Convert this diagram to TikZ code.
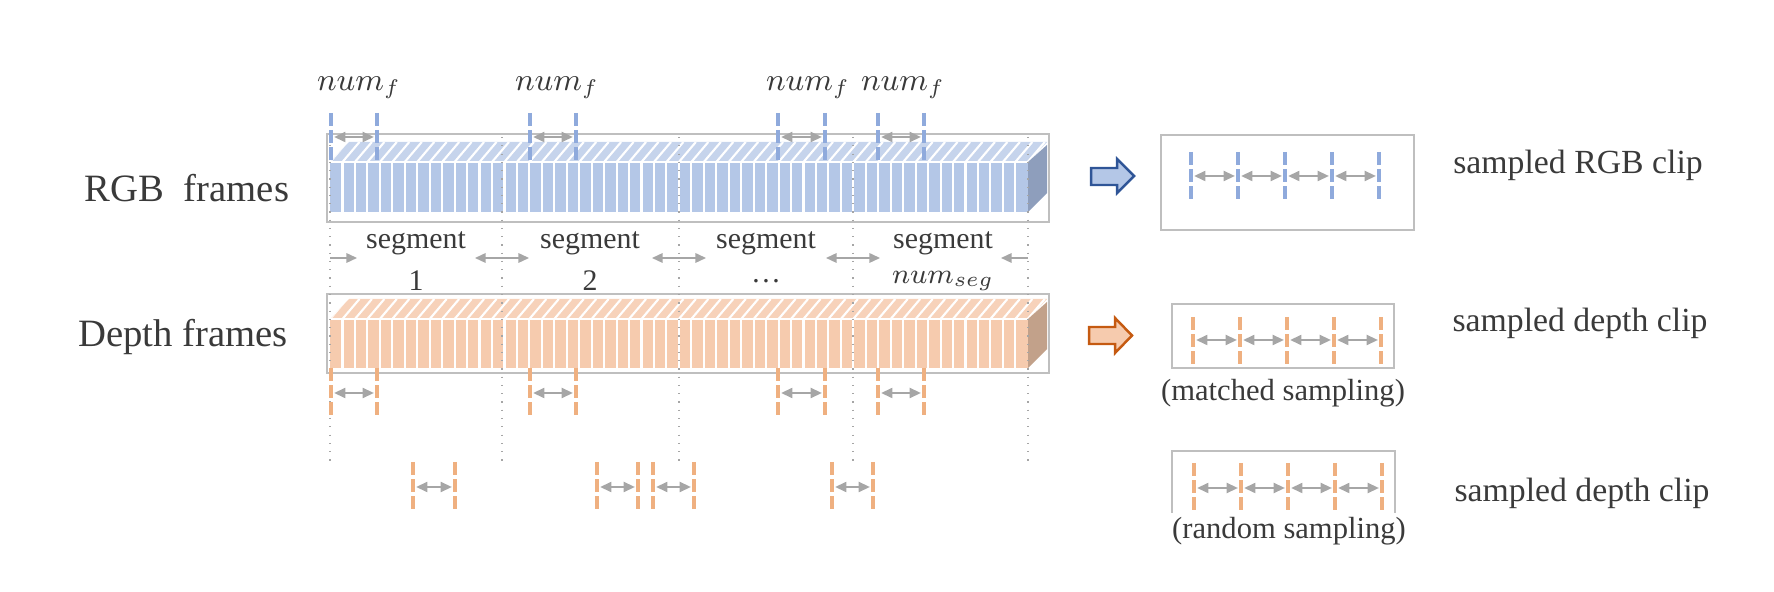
\documentclass[tikz,border=0pt]{standalone}
\usepackage{fontspec}
\setmainfont{Liberation Serif}
\usetikzlibrary{arrows.meta}
\usetikzlibrary{positioning}
\usetikzlibrary{calc}

\definecolor{rgbfill}{HTML}{B4C7E7}
\definecolor{rgbtop}{HTML}{C6D4EC}
\definecolor{rgbside}{HTML}{8E9EBC}
\definecolor{rgbmark}{HTML}{8FAADC}
\definecolor{rgbline}{HTML}{2F5597}
\definecolor{depfill}{HTML}{F6CBAE}
\definecolor{deptop}{HTML}{F7D2BA}
\definecolor{depside}{HTML}{C2A18A}
\definecolor{depmark}{HTML}{EFB080}
\definecolor{depline}{HTML}{C55A11}
\definecolor{txt}{HTML}{3A3A3A}
\definecolor{arr}{HTML}{A6A6A6}

\tikzset{
  sidetxt/.style={text=txt,inner sep=0,font=\fontsize{11}{13}\selectfont},
  segtxt/.style={text=txt,inner sep=0,font=\fontsize{8.5}{10}\selectfont},
  numtxt/.style={text=txt,inner sep=0,font=\fontsize{8.6}{11}\selectfont},
  cliptxt/.style={text=txt,inner sep=0,font=\fontsize{9.6}{12}\selectfont},
  subtxt/.style={text=txt,inner sep=0,font=\fontsize{8.7}{10}\selectfont},
  boxline/.style={draw=black!25,line width=0.4pt},
  segline/.style={black!35,dotted,line width=0.35pt},
  markbar/.style={line width=1.15pt,dash pattern=on 0.13cm off 0.04cm},
  gaparrow/.style={arr,line width=0.45pt,shorten <=0.9pt,shorten >=0.9pt,{Triangle[length=3.2pt,width=2.9pt]}-{Triangle[length=3.2pt,width=2.9pt]}},
  segarrow/.style={arr,line width=0.45pt,-{Triangle[length=3pt,width=2.7pt]}},
}

\begin{document}
\begin{tikzpicture}[x=0.01cm,y=-0.01cm]
\useasboundingbox (0,0) rectangle (1774,592);

\foreach \yt/\yb/\fc/\tc/\sc/\bt/\bb in {162/212/rgbfill/rgbtop/rgbside/134/222,319/368/depfill/deptop/depside/294/373}{
  \draw[boxline] (327,\bt) rectangle (1049,\bb);
  \fill[fill=\tc] (330,\yt) -- (1028,\yt) -- (1047,\yt-20) -- (349,\yt-20) -- cycle;
  \begin{scope}
    \clip (330,\yt) -- (1028,\yt) -- (1047,\yt-20) -- (349,\yt-20) -- cycle;
    \foreach \i in {0,...,57} \draw[white,line width=0.6pt] (330+\i*12.46,\yt) -- ++(17,-20);
  \end{scope}
  \fill[fill=\fc] (330,\yt) rectangle (1028,\yb);
  \foreach \i in {1,...,55} \draw[white,line width=0.6pt] (330+\i*12.46,\yt) -- (330+\i*12.46,\yb);
  \draw[white,line width=0.6pt] (330,\yt) -- (1028,\yt);
  \fill[fill=\sc] (1028,\yt) -- (1047,\yt-17) -- (1047,\yb-19) -- (1028,\yb) -- cycle;
}

\node[sidetxt] (rgbtxt) at (187,188) {RGB\ \ frames};
\node[sidetxt] (deptxt) at (183,337) {Depth frames};

\foreach \x [count=\k] in {330,502,679,853,1028}{
  \draw[segline] (\x,137) -- (\x,462);
  \coordinate (b\k) at (\x,258);
}
\foreach \k [evaluate=\k as \j using int(\k+1)] in {1,...,4}{
  \draw[segarrow] (b\k) -- ($(b\k)+(27,0)$);
  \draw[segarrow] (b\j) -- ($(b\j)+(-27,0)$);
}
\foreach \x/\t [count=\k] in {416/1,590/2,766/\dots,943/{$num_{seg}$}}{
  \node[segtxt] (seg\k) at (\x,243) {segment};
  \node[segtxt] (idx\k) at (\x,281) {\t};
}

\foreach \a/\b/\l [count=\k] in {331/377/359,530/576/557,778/825/808,878/924/903}{
  \node[numtxt] (nf\k) at (\l,88) {$num_f$};
  \draw[markbar,rgbmark] (\a,113) -- (\a,160);
  \draw[markbar,rgbmark] (\b,113) -- (\b,160);
  \coordinate (ra\k) at (\a,137);
  \coordinate (rb\k) at (\b,137);
  \draw[gaparrow] (ra\k) -- (rb\k);
  \draw[markbar,depmark] (\a,368) -- (\a,415);
  \draw[markbar,depmark] (\b,368) -- (\b,415);
  \coordinate (da\k) at (\a,393);
  \coordinate (db\k) at (\b,393);
  \draw[gaparrow] (da\k) -- (db\k);
}
\foreach \a/\b [count=\k] in {413/455,597/638,653/694,832/873}{
  \draw[markbar,depmark] (\a,462) -- (\a,509);
  \draw[markbar,depmark] (\b,462) -- (\b,509);
  \coordinate (qa\k) at (\a,487);
  \coordinate (qb\k) at (\b,487);
  \draw[gaparrow] (qa\k) -- (qb\k);
}

\fill[rgbfill,draw=rgbline,line width=0.7pt,line join=miter] (1091,168) -- (1117,168) -- (1117,159) -- (1134,176) -- (1117,193) -- (1117,185) -- (1091,185) -- cycle;
\fill[depfill,draw=depline,line width=0.7pt,line join=miter] (1089,327) -- (1115,327) -- (1115,318) -- (1132,335.5) -- (1115,353) -- (1115,344) -- (1089,344) -- cycle;

\node[boxline,draw,minimum width=2.53cm,minimum height=0.95cm,inner sep=0] (rgbclip) at (1287.5,182.5) {};
\node[boxline,draw,minimum width=2.22cm,minimum height=0.64cm,inner sep=0] (matchclip) at (1283,336) {};
\draw[boxline] (1172,513) -- (1172,451) -- (1395,451) -- (1395,513);

\foreach \x [count=\k] in {1191,1238,1285,1332,1379}{
  \draw[markbar,rgbmark] (\x,152) -- (\x,199);
  \coordinate (c\k) at (\x,176);
}
\foreach \x [count=\k] in {1193,1240,1287,1334,1381}{
  \draw[markbar,depmark] (\x,317) -- (\x,364);
  \coordinate (m\k) at (\x,340);
}
\foreach \x [count=\k] in {1194,1241,1288,1335,1382}{
  \draw[markbar,depmark] (\x,463) -- (\x,510);
  \coordinate (r\k) at (\x,488);
}
\foreach \k [evaluate=\k as \j using int(\k+1)] in {1,...,4}{
  \draw[gaparrow] (c\k) -- (c\j);
  \draw[gaparrow] (m\k) -- (m\j);
  \draw[gaparrow] (r\k) -- (r\j);
}

\node[subtxt,below=1mm of matchclip] (matchtxt) {(matched sampling)};
\node[subtxt] (randtxt) at (1289,531) {(random sampling)};
\node[cliptxt] (rgbclip txt) at (1578,165) {sampled RGB clip};
\node[cliptxt] (matchclip txt) at (1580,323) {sampled depth clip};
\node[cliptxt] (randclip txt) at (1582,493) {sampled depth clip};
\end{tikzpicture}
\end{document}
